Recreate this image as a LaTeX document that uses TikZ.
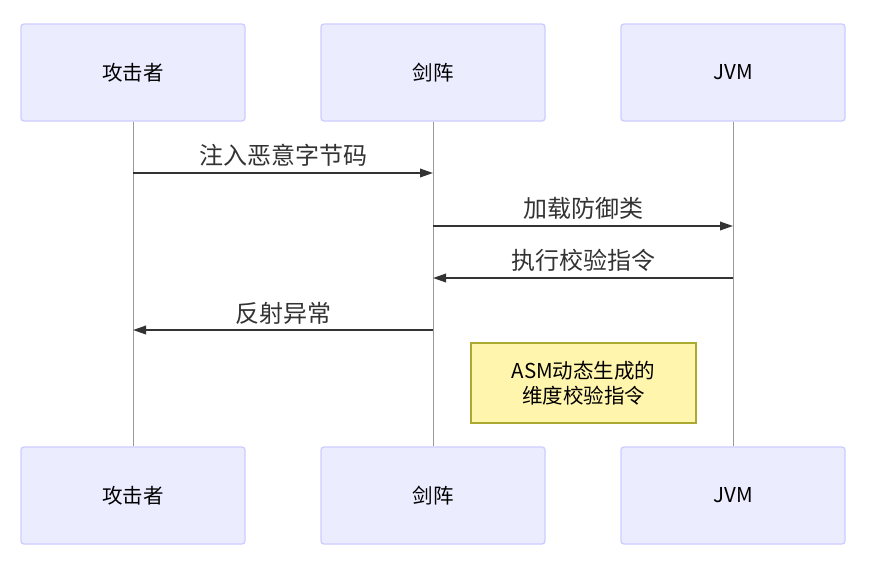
\documentclass[tikz,border=0pt]{standalone}
\usepackage{fontspec}
\setmainfont{Noto Sans CJK SC}
\usetikzlibrary{arrows.meta}
\definecolor{actfill}{HTML}{ECECFF}
\definecolor{actdraw}{HTML}{CCCCFF}
\definecolor{notefill}{HTML}{FFF5AD}
\definecolor{notedraw}{HTML}{AAAA33}
\definecolor{msg}{HTML}{333333}
\definecolor{life}{HTML}{999999}
\tikzset{
  actor/.style={draw=actdraw, fill=actfill, line width=1.3pt, rounded corners=3pt,
    minimum width=224pt, minimum height=97pt, inner sep=0pt,
    font=\fontsize{20.5pt}{23pt}\selectfont, text=black},
  lifeline/.style={draw=life, line width=0.8pt},
  message/.style={draw=msg, line width=2pt, -{Triangle[length=13pt,width=8.5pt]}},
  msglabel/.style={font=\fontsize{24pt}{27pt}\selectfont, text=msg, inner sep=0pt},
  notebox/.style={draw=notedraw, fill=notefill, line width=1.3pt,
    minimum width=225pt, minimum height=80pt, inner sep=0pt, align=center,
    font=\fontsize{20.5pt}{25pt}\selectfont, text=black}
}
\begin{document}
\begin{tikzpicture}[x=1pt,y=-1pt]
\useasboundingbox (0,0) rectangle (895,573);
\node[actor] (a1) at (133,72.5) {攻击者};
\node[actor] (a2) at (433,72.5) {剑阵};
\node[actor] (a3) at (733,72.5) {JVM};
\node[actor] (b1) at (133,495.5) {攻击者};
\node[actor] (b2) at (433,495.5) {剑阵};
\node[actor] (b3) at (733,495.5) {JVM};
\draw[lifeline] (a1.south) -- (b1.north);
\draw[lifeline] (a2.south) -- (b2.north);
\draw[lifeline] (a3.south) -- (b3.north);
\coordinate (m1s) at (a1.south |- 0,173);
\coordinate (m1e) at (a2.south |- 0,173);
\coordinate (m2s) at (a2.south |- 0,226);
\coordinate (m2e) at (a3.south |- 0,226);
\coordinate (m3s) at (a3.south |- 0,278);
\coordinate (m3e) at (a2.south |- 0,278);
\coordinate (m4s) at (a2.south |- 0,330);
\coordinate (m4e) at (a1.south |- 0,330);
\draw[message] (m1s) -- (m1e);
\draw[message] (m2s) -- (m2e);
\draw[message] (m3s) -- (m3e);
\draw[message] (m4s) -- (m4e);
\node[msglabel] (l1) at (283,155) {注入恶意字节码};
\node[msglabel] (l2) at (583,208) {加载防御类};
\node[msglabel] (l3) at (583,260) {执行校验指令};
\node[msglabel] (l4) at (283,313) {反射异常};
\node[notebox] (n1) at (583.5,383) {ASM动态生成的\\维度校验指令};
\end{tikzpicture}
\end{document}
